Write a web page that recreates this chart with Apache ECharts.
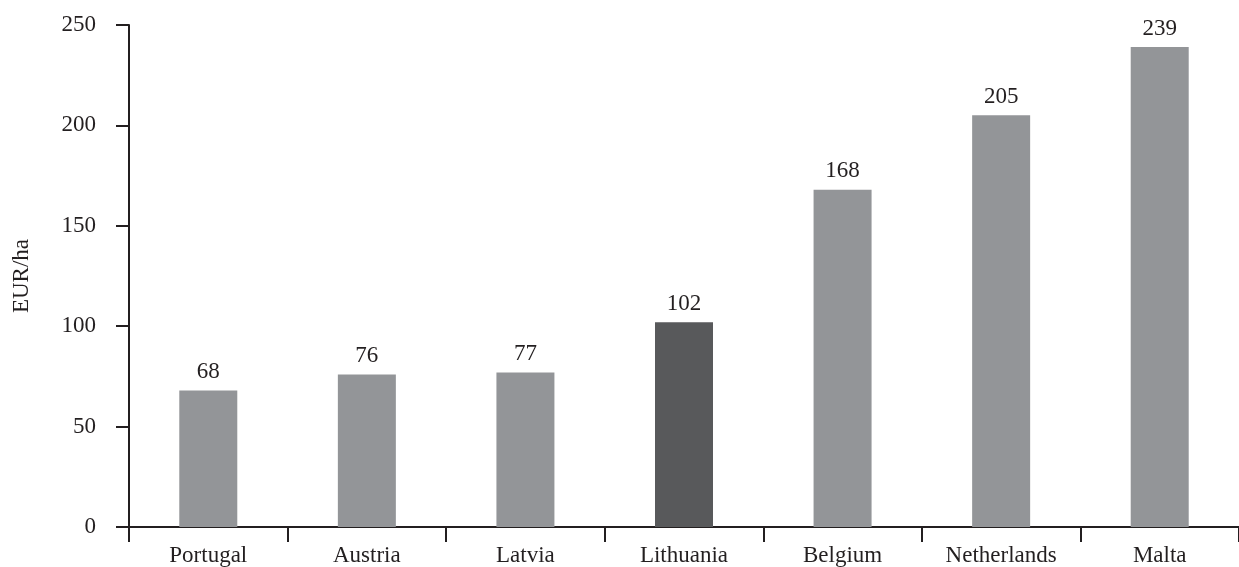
<!DOCTYPE html>
<html>
<head>
<meta charset="utf-8">
<script src="https://cdn.jsdelivr.net/npm/echarts@6/dist/echarts.min.js"></script>
<style>
    * { margin: 0; padding: 0; }
    html, body { background: #ffffff; }
    #chart { width: 1239px; height: 567px; }
</style>
</head>
<body>
<div id="chart"></div>
<script>
    // data
    var countries = ['Portugal', 'Austria', 'Latvia', 'Lithuania', 'Belgium', 'Netherlands', 'Malta'];
    var values = [68, 76, 77, 102, 168, 205, 239];
    var highlight = 'Lithuania';
    var yTicks = [0, 50, 100, 150, 200, 250];

    var font = '"Liberation Serif", "DejaVu Serif", serif';
    var chart = echarts.init(document.getElementById('chart'));

    var barData = countries.map(function (c, i) {
        return {
            value: values[i],
            itemStyle: { color: c === highlight ? '#58595b' : '#939598' }
        };
    });

    var option = {
        animation: false,
        grid: { left: 129, top: 25, width: 1120, height: 502 },
        xAxis: {
            type: 'category',
            data: countries,
            axisLine: { lineStyle: { color: '#231f20', width: 2 } },
            axisTick: { show: true, length: 15, lineStyle: { color: '#231f20', width: 2 } },
            axisLabel: { color: '#231f20', fontFamily: font, fontSize: 23, margin: 17 }
        },
        yAxis: {
            type: 'value',
            min: yTicks[0],
            max: yTicks[yTicks.length - 1],
            interval: 50,
            name: 'EUR/ha',
            nameLocation: 'middle',
            nameGap: 96,
            nameTextStyle: { color: '#231f20', fontFamily: font, fontSize: 23 },
            axisLine: { show: true, lineStyle: { color: '#231f20', width: 2 } },
            axisTick: { show: true, length: 13, lineStyle: { color: '#231f20', width: 2 } },
            axisLabel: { color: '#231f20', fontFamily: font, fontSize: 23, margin: 33 },
            splitLine: { show: false }
        },
        series: [{
            type: 'bar',
            data: barData,
            barWidth: 58,
            label: {
                show: true,
                position: 'top',
                distance: 7,
                color: '#231f20',
                fontFamily: font,
                fontSize: 23
            }
        }]
    };

    chart.setOption(option);
</script>
</body>
</html>
